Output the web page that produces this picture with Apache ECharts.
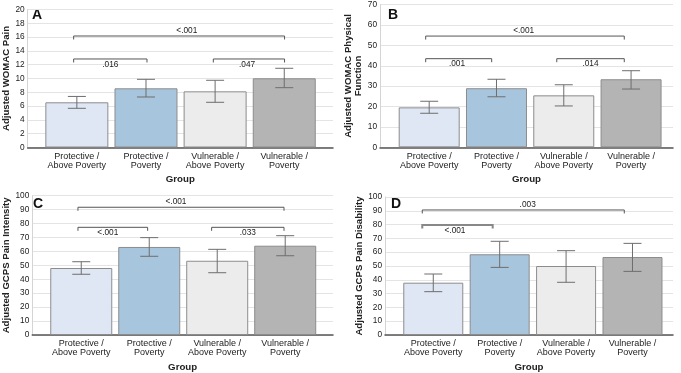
<!DOCTYPE html>
<html><head><meta charset="utf-8">
<script src="https://cdn.jsdelivr.net/npm/echarts@6/dist/echarts.min.js"></script>
<style>html,body{margin:0;padding:0;background:#fff}#c{width:681px;height:373px}</style>
</head><body><div id="c"></div>
<script>
// ---------- data ----------
const categories = ['Protective /\nAbove Poverty', 'Protective /\nPoverty', 'Vulnerable /\nAbove Poverty', 'Vulnerable /\nPoverty'];
const panelLetters = ['A', 'B', 'C', 'D'];
const yTitles = ['Adjusted WOMAC Pain', 'Adjusted WOMAC Physical\nFunction', 'Adjusted GCPS Pain Intensity', 'Adjusted GCPS Pain Disability'];
const xTitle = 'Group';
const yMax = [20, 70, 100, 100];
const yInterval = [2, 10, 10, 10];

const meansA = [6.55, 8.58, 8.14, 10.03];
const lowerA = [5.68, 7.32, 6.55, 8.67];
const upperA = [7.40, 9.88, 9.74, 11.48];

const meansB = [19.6, 29.0, 25.5, 33.4];
const lowerB = [16.7, 24.8, 20.3, 28.6];
const upperB = [22.6, 33.4, 30.7, 37.6];

const meansC = [48.1, 63.2, 53.3, 64.1];
const lowerC = [43.6, 56.5, 44.7, 56.9];
const upperC = [52.6, 69.9, 61.5, 71.3];

const meansD = [37.9, 58.5, 50.0, 56.5];
const lowerD = [31.4, 49.0, 38.2, 46.1];
const upperD = [44.2, 67.9, 61.1, 66.4];

// brackets: [fromGroup, toGroup, yValue, label, side]
const bracketsA = [[0, 3, 16.16, '<.001', 'above'], [0, 1, 12.83, '.016', 'below'], [2, 3, 12.83, '.047', 'below']];
const bracketsB = [[0, 3, 54.6, '<.001', 'above'], [0, 1, 43.5, '.001', 'below'], [2, 3, 43.5, '.014', 'below']];
const bracketsC = [[0, 3, 91.7, '<.001', 'above'], [0, 1, 77.3, '<.001', 'below'], [2, 3, 77.3, '.033', 'below']];
const bracketsD = [[0, 3, 90.6, '.003', 'above'], [0, 1, 79.7, '<.001', 'below']];

// ---------- styles / layout ----------
const barColors = ['#dfe7f5', '#a8c5de', '#ececec', '#b4b4b4'];
const FONT = '"Liberation Sans", Arial, Helvetica, sans-serif';
const layouts = [
  {left: 26, top: 9.5, width: 307, height: 138, xmin: -0.712, xmax: 3.705, barW: 63, nameGap: 14, letter: [32, 8],
   bl: [[-3.2, 0.3, 7.7], [-3.2, 1, 0], [-1.8, 0.3, -1.8]]},
  {left: 380, top: 4.7, width: 293, height: 142.6, xmin: -0.731, xmax: 3.623, barW: 61, nameGap: 15, letter: [388, 8],
   bl: [[-3.5, -6.8, -1.3], [-3.5, -4.8, -1.7], [-7, -6.8, 0]]},
  {left: 30.7, top: 195.7, width: 302.3, height: 139.3, xmin: -0.721, xmax: 3.703, barW: 62, nameGap: 17, letter: [33, 197],
   bl: [[-3.3, -1.2, -5], [-3.3, -1.6, -5], [-5.6, -1.2, 0]]},
  {left: 385, top: 197, width: 288, height: 138, xmin: -0.727, xmax: 3.61, barW: 60, nameGap: 20, letter: [391, 197],
   bl: [[-11, -8.2, 4.4], [-11, -7, -2.5]], bw: [1, 2]}
];

const panels = [
  {m: meansA, lo: lowerA, hi: upperA, br: bracketsA},
  {m: meansB, lo: lowerB, hi: upperB, br: bracketsB},
  {m: meansC, lo: lowerC, hi: upperC, br: bracketsC},
  {m: meansD, lo: lowerD, hi: upperD, br: bracketsD}
];

const grid = [], xAxis = [], yAxis = [], series = [], graphic = [];

panels.forEach((p, k) => {
  const L = layouts[k];
  grid.push({left: L.left, top: L.top, width: L.width, height: L.height});
  xAxis.push({
    type: 'value', gridIndex: k, min: L.xmin, max: L.xmax,
    name: xTitle, nameLocation: 'middle', nameGap: 27,
    nameTextStyle: {fontFamily: FONT, fontWeight: 'bold', fontSize: 9.7, color: '#222'},
    axisLine: {show: true, onZero: false, lineStyle: {color: '#555', width: 1.5}},
    axisTick: {show: false},
    splitLine: {show: false},
    axisLabel: {
      customValues: [0, 1, 2, 3],
      formatter: v => categories[Math.round(v)],
      fontFamily: FONT, fontSize: 9, lineHeight: 9, color: '#222', margin: 4.5
    }
  });
  yAxis.push({
    type: 'value', gridIndex: k, min: 0, max: yMax[k], interval: yInterval[k],
    name: yTitles[k], nameLocation: 'middle', nameGap: L.nameGap,
    nameTextStyle: {fontFamily: FONT, fontWeight: 'bold', fontSize: 9.6, color: '#222', lineHeight: 10.5},
    axisLine: {show: true, onZero: false, lineStyle: {color: '#d4d4d4', width: 1}},
    axisTick: {show: false},
    splitLine: {show: true, lineStyle: {color: '#e4e4e4', width: 1}},
    axisLabel: {fontFamily: FONT, fontSize: 8.3, color: '#222', margin: 3}
  });
  series.push({
    type: 'bar', xAxisIndex: k, yAxisIndex: k, barWidth: L.barW,
    data: p.m.map((v, i) => ({value: [i, v], itemStyle: {color: barColors[i], borderColor: '#8c8c8c', borderWidth: 1}})),
    z: 2
  });
  series.push({
    type: 'custom', xAxisIndex: k, yAxisIndex: k, z: 3, clip: false,
    data: p.m.map((v, i) => [i, p.lo[i], p.hi[i]]),
    encode: {x: 0, y: [1, 2]},
    renderItem: (params, api) => {
      const x = api.value(0);
      const a = api.coord([x, api.value(2)]);
      const b = api.coord([x, api.value(1)]);
      const h = 9;
      const st = {stroke: '#6e6e6e', lineWidth: 1};
      return {type: 'group', children: [
        {type: 'line', shape: {x1: a[0], y1: a[1], x2: b[0], y2: b[1]}, style: st},
        {type: 'line', shape: {x1: a[0] - h, y1: a[1], x2: a[0] + h, y2: a[1]}, style: st},
        {type: 'line', shape: {x1: b[0] - h, y1: b[1], x2: b[0] + h, y2: b[1]}, style: st}
      ]};
    }
  });
  series.push({
    type: 'custom', xAxisIndex: k, yAxisIndex: k, z: 4, clip: false,
    data: p.br.map(b => [b[0], b[1], b[2]]),
    encode: {x: [0, 1], y: 2},
    renderItem: (params, api) => {
      const i = params.dataIndex;
      const b = p.br[i];
      const off = L.bl[i];
      const lw = L.bw ? L.bw[i] : 1;
      const p1 = api.coord([b[0], b[2]]);
      const p2 = api.coord([b[1], b[2]]);
      const x1 = p1[0] + off[0], x2 = p2[0] + off[1], y = p1[1];
      const t = 3.5;
      const dy = b[4] === 'above' ? -5.5 : 5.5;
      return {type: 'group', children: [
        {type: 'polyline', shape: {points: [[x1, y + t], [x1, y], [x2, y], [x2, y + t]]},
         style: {stroke: lw > 1 ? '#888' : '#555', lineWidth: lw, fill: null}},
        {type: 'text', x: (x1 + x2) / 2 + off[2], y: y + dy,
         style: {text: b[3], fontFamily: FONT, fontSize: 8.3, fill: '#222', align: 'center', verticalAlign: 'middle'}}
      ]};
    }
  });
  graphic.push({type: 'text', left: L.letter[0], top: L.letter[1],
    style: {text: panelLetters[k], fontFamily: FONT, fontWeight: 'bold', fontSize: 14, fill: '#111'}});
});

const chart = echarts.init(document.getElementById('c'), null, {renderer: 'canvas'});
chart.setOption({animation: false, backgroundColor: '#fff', grid, xAxis, yAxis, series, graphic});
</script>
</body></html>
